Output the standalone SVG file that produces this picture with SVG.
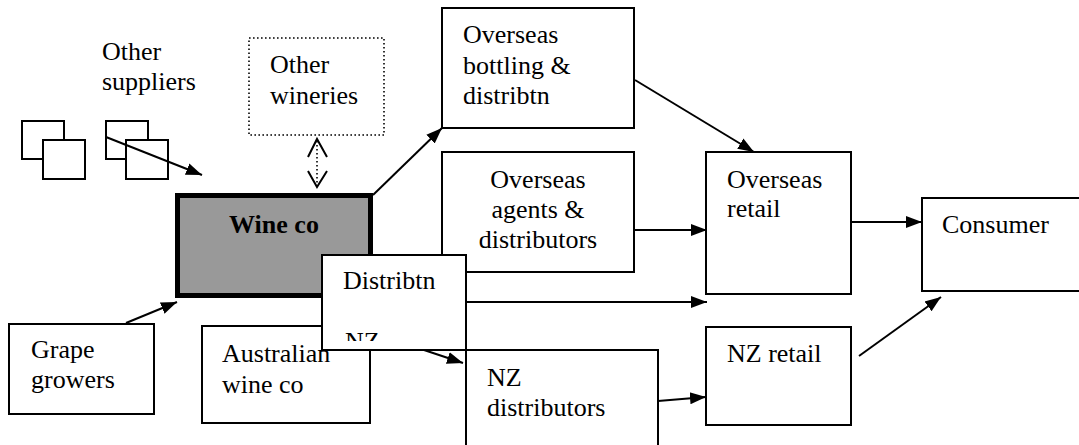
<svg xmlns="http://www.w3.org/2000/svg" width="1079" height="445" viewBox="0 0 1079 445">
  <style>
    .box { fill: #ffffff; stroke: #000000; stroke-width: 2; }
    .dotted { fill: #ffffff; stroke: #000000; stroke-width: 1.6; stroke-dasharray: 1.6 2.4; }
    .main { fill: #999999; stroke: #000000; stroke-width: 5; }
    .conn { fill: none; stroke: #000000; stroke-width: 2; }
    .dots { fill: none; stroke: #000000; stroke-width: 1.6; stroke-dasharray: 1.6 2.4; }
  </style>
  <defs>
    <marker id="head" markerUnits="userSpaceOnUse" markerWidth="18" markerHeight="14" refX="16" refY="7" orient="auto">
      <path d="M0,1 L16,7 L0,13 Z" fill="#000000"/>
    </marker>
    <clipPath id="distClip">
      <rect x="322" y="255" width="144" height="86"/>
    </clipPath>
  </defs>

  <rect width="1079" height="445" fill="#ffffff"/>

  <!-- supplier icons and label -->
  <g id="other-suppliers">
    <rect class="box" x="22" y="121" width="42" height="38"/>
    <rect class="box" x="43" y="140" width="42" height="39"/>
    <rect class="box" x="106" y="121" width="42" height="38"/>
    <rect class="box" x="126" y="140" width="42" height="39"/>
    <text x="102" y="60" font-family="Liberation Serif" font-size="26">Other</text>
    <text x="102" y="90" font-family="Liberation Serif" font-size="26">suppliers</text>
  </g>

  <g id="other-wineries">
    <rect class="dotted" x="249" y="38" width="135" height="97"/>
    <text x="270" y="73" font-family="Liberation Serif" font-size="26">Other</text>
    <text x="270" y="104" font-family="Liberation Serif" font-size="26">wineries</text>
  </g>

  <g id="wine-co">
    <rect class="main" x="177.5" y="195.5" width="193" height="100"/>
    <text x="274" y="233" font-family="Liberation Serif" font-size="26" font-weight="bold" text-anchor="middle">Wine co</text>
  </g>

  <g id="grape-growers">
    <rect class="box" x="9" y="324" width="145" height="90"/>
    <text x="31" y="358" font-family="Liberation Serif" font-size="26">Grape</text>
    <text x="31" y="388" font-family="Liberation Serif" font-size="26">growers</text>
  </g>

  <g id="australian-wine-co">
    <rect class="box" x="202" y="326" width="168" height="97"/>
    <text x="222" y="362" font-family="Liberation Serif" font-size="26">Australian</text>
    <text x="222" y="393" font-family="Liberation Serif" font-size="26">wine co</text>
  </g>

  <g id="overseas-bottling">
    <rect class="box" x="442" y="8" width="192" height="120"/>
    <text x="463" y="43" font-family="Liberation Serif" font-size="26">Overseas</text>
    <text x="463" y="74" font-family="Liberation Serif" font-size="26">bottling &amp;</text>
    <text x="463" y="104" font-family="Liberation Serif" font-size="26">distribtn</text>
  </g>

  <g id="overseas-agents">
    <rect class="box" x="442" y="152" width="192" height="120"/>
    <text x="538" y="188" font-family="Liberation Serif" font-size="26" text-anchor="middle">Overseas</text>
    <text x="538" y="218" font-family="Liberation Serif" font-size="26" text-anchor="middle">agents &amp;</text>
    <text x="538" y="248" font-family="Liberation Serif" font-size="26" text-anchor="middle">distributors</text>
  </g>

  <g id="overseas-retail">
    <rect class="box" x="706" y="152" width="145" height="142"/>
    <text x="727" y="188" font-family="Liberation Serif" font-size="26">Overseas</text>
    <text x="727" y="217" font-family="Liberation Serif" font-size="26">retail</text>
  </g>

  <g id="consumer">
    <rect class="box" x="922" y="198" width="170" height="93"/>
    <text x="942" y="233" font-family="Liberation Serif" font-size="26">Consumer</text>
  </g>

  <g id="nz-retail">
    <rect class="box" x="706" y="327" width="145" height="98"/>
    <text x="727" y="362" font-family="Liberation Serif" font-size="26">NZ retail</text>
  </g>

  <g id="nz-distributors">
    <rect class="box" x="466" y="350" width="192" height="105"/>
    <text x="487" y="386" font-family="Liberation Serif" font-size="26">NZ</text>
    <text x="487" y="416" font-family="Liberation Serif" font-size="26">distributors</text>
  </g>

  <!-- connectors -->
  <g id="connectors">
    <line class="conn" x1="106" y1="137" x2="202" y2="175" marker-end="url(#head)"/>
    <line class="dots" x1="317" y1="141" x2="317" y2="185"/>
    <polyline class="conn" points="308,157 317,139 327,157" stroke-width="1.6"/>
    <polyline class="conn" points="308,171 317,187 327,171" stroke-width="1.6"/>
    <line class="conn" x1="126" y1="323" x2="177" y2="302" marker-end="url(#head)"/>
    <line class="conn" x1="373" y1="195" x2="442" y2="128" marker-end="url(#head)"/>
    <line class="conn" x1="635" y1="80" x2="754" y2="152" marker-end="url(#head)"/>
    <line class="conn" x1="634" y1="230" x2="707" y2="230" marker-end="url(#head)"/>
    <line class="conn" x1="466" y1="302" x2="707" y2="302" marker-end="url(#head)"/>
    <line class="conn" x1="851" y1="222" x2="922" y2="222" marker-end="url(#head)"/>
    <line class="conn" x1="400" y1="342" x2="463" y2="363" marker-end="url(#head)"/>
    <line class="conn" x1="658" y1="401" x2="706" y2="397" marker-end="url(#head)"/>
    <line class="conn" x1="859" y1="356" x2="941" y2="297" marker-end="url(#head)"/>
  </g>

  <g id="distribtn">
    <rect class="box" x="322" y="255" width="144" height="95"/>
    <text x="343" y="289" font-family="Liberation Serif" font-size="26">Distribtn</text>
    <text x="345" y="350" font-family="Liberation Serif" font-size="26" clip-path="url(#distClip)">NZ</text>
  </g>
</svg>
